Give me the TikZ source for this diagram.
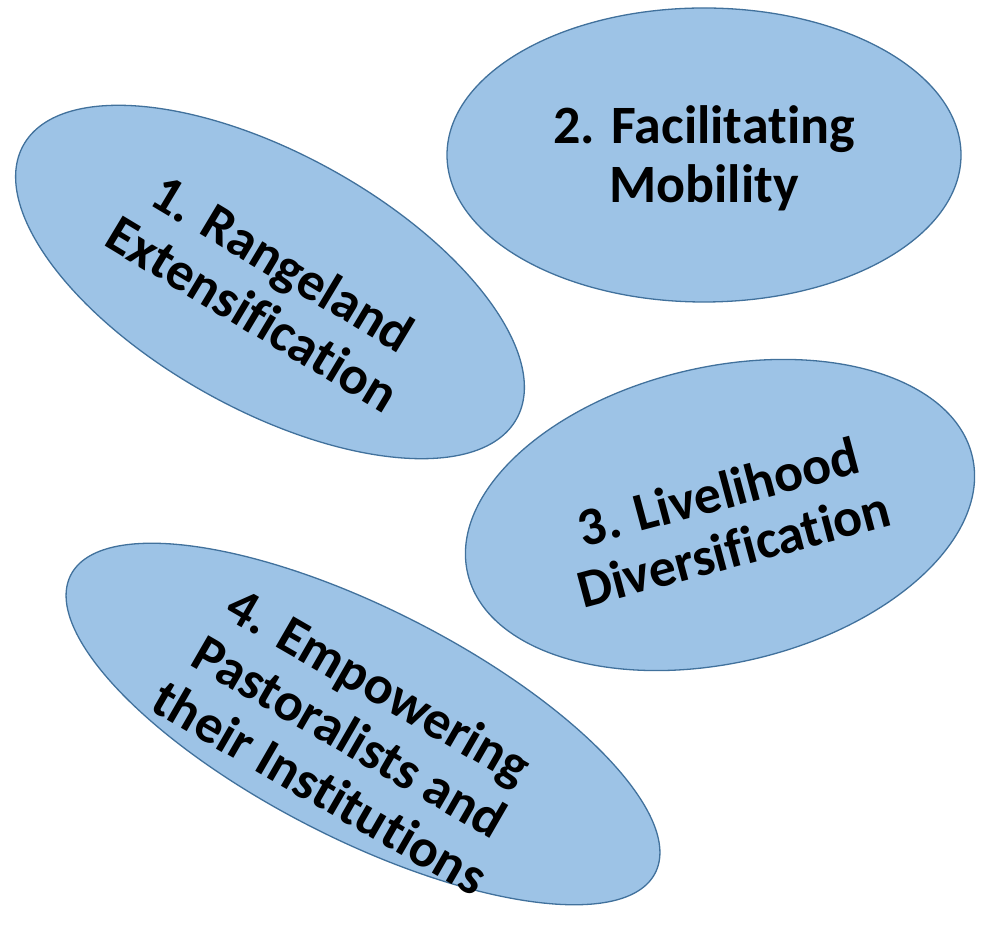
\documentclass[tikz,border=0pt]{standalone}
\usepackage{fontspec}
\setmainfont[Ligatures={NoCommon}]{Carlito}
\usetikzlibrary{shapes.geometric}
\definecolor{fillblue}{HTML}{9DC3E6}
\definecolor{edgeblue}{HTML}{41719C}
\begin{document}
\begin{tikzpicture}[
  blob/.style={ellipse, draw=edgeblue, fill=fillblue, line width=1.3pt, inner sep=0pt},
  lbl/.style={font=\fontsize{54}{59}\selectfont\bfseries, align=center, inner sep=0pt}]
\useasboundingbox (0,0) rectangle (981pt,926pt);
\node[blob, minimum width=564pt, minimum height=256pt, rotate=-29] (e1) at (270pt,644pt) {};
\node[blob, minimum width=514pt, minimum height=294pt] (e2) at (704pt,771pt) {};
\node[blob, minimum width=518pt, minimum height=296pt, rotate=13] (e3) at (720pt,411pt) {};
\node[blob, minimum width=656pt, minimum height=230pt, rotate=-27] (e4) at (363pt,202pt) {};
\node[lbl, rotate=-31] (t1) at (268pt,638pt) {1. Rangeland\\Extensification};
\node[lbl] (t2) at (704pt,768pt) {2. Facilitating\\Mobility};
\node[lbl, rotate=15] (t3) at (726pt,406pt) {3. Livelihood\\Diversification};
\node[lbl, rotate=-30] (t4) at (350pt,190pt) {4. Empowering\\Pastoralists and\\their Institutions};
\end{tikzpicture}
\end{document}
